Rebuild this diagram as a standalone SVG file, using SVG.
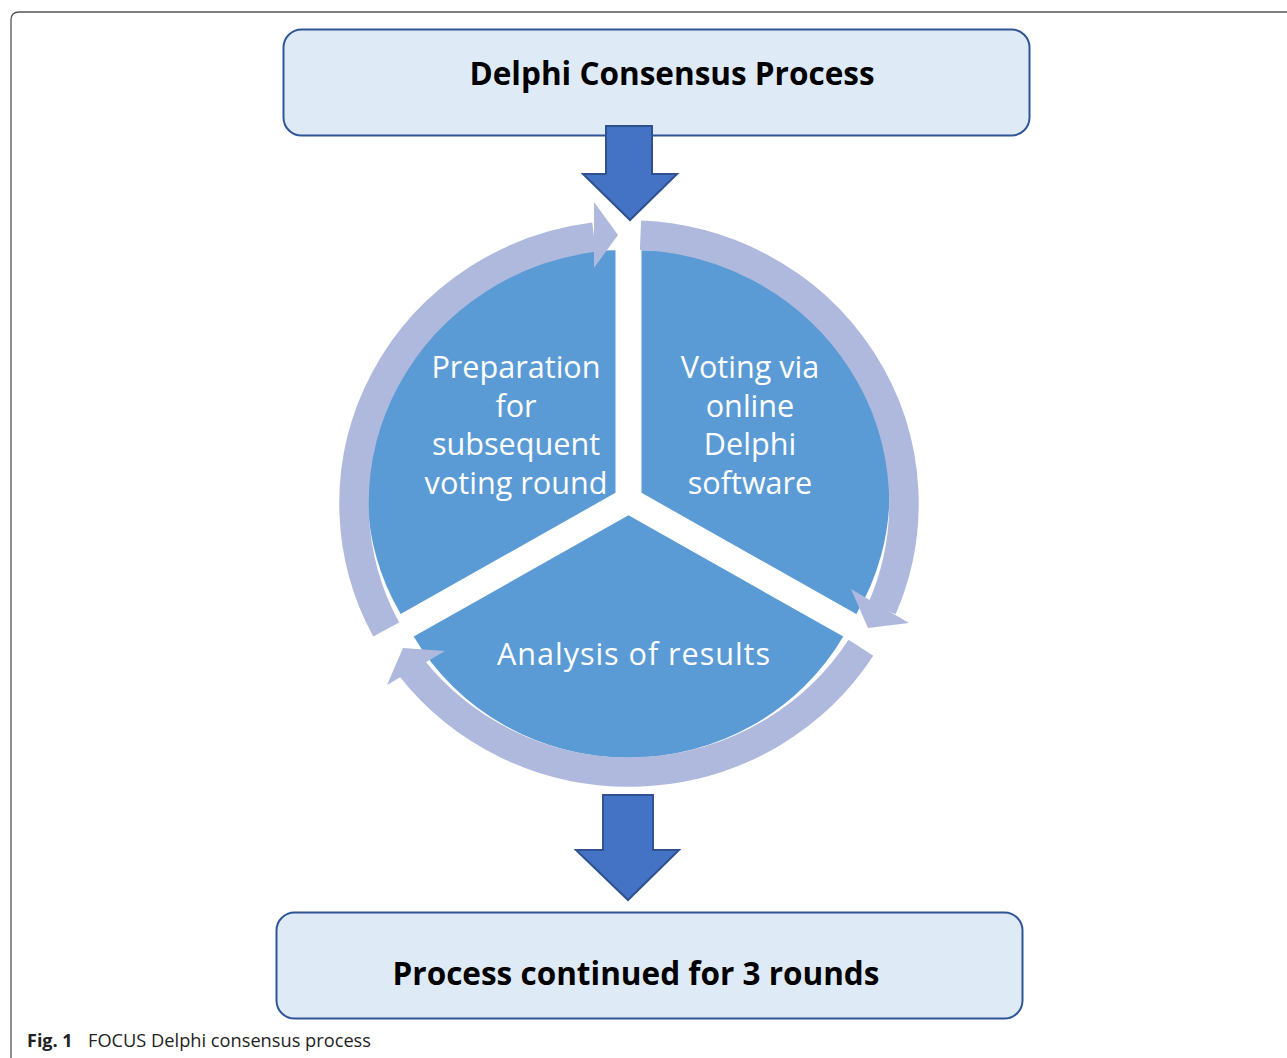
<svg xmlns="http://www.w3.org/2000/svg" width="1287" height="1058" viewBox="0 0 1287 1058">
<style>
.box{fill:#deeaf6;stroke:#2f5597;stroke-width:2}
.title{font-family:"Open Sans","DejaVu Sans",sans-serif;font-weight:bold;font-size:31.5px;fill:#000;text-anchor:middle}
.pie{fill:#5b9bd5}
.ptext{font-family:"Open Sans","DejaVu Sans",sans-serif;font-size:30.6px;fill:#fff;text-anchor:middle}
.ring{fill:none;stroke:#aeb9dd;stroke-width:29.5}
.head{fill:#aeb9dd}
.bigarrow{fill:#4472c4;stroke:#2f528f;stroke-width:2}
.cap{font-family:"Open Sans","DejaVu Sans",sans-serif;font-size:18px;fill:#222}
</style>
<rect width="1287" height="1058" fill="#fff"/>
<path d="M 11 1058 L 11 20 Q 11 12 19 12 L 1287 12" fill="none" stroke="#555" stroke-width="1.3"/>

<g id="pie">
  <g id="seg-prep">
    <path class="pie" d="M 615.5 492.8 L 615.5 250.3 A 248 242.5 0 0 0 400.7 614.05 Z"/>
    <text class="ptext"><tspan x="516" y="378">Preparation</tspan><tspan x="516" y="416.5">for</tspan><tspan x="516" y="455">subsequent</tspan><tspan x="516" y="493.5">voting round</tspan></text>
  </g>
  <g id="seg-voting">
    <path class="pie" d="M 641.5 492.8 L 641.5 250.3 A 248 242.5 0 0 1 856.3 614.05 Z"/>
    <text class="ptext"><tspan x="750" y="378">Voting via</tspan><tspan x="750" y="416.5">online</tspan><tspan x="750" y="455">Delphi</tspan><tspan x="750" y="493.5">software</tspan></text>
  </g>
  <g id="seg-analysis">
    <path class="pie" d="M 628.5 515.3 L 843.3 636.55 A 248 242.5 0 0 1 413.7 636.55 Z"/>
    <text class="ptext" x="633.5" y="665" font-size="32" textLength="273" lengthAdjust="spacing">Analysis of results</text>
  </g>
</g>

<g id="connectors">
  <path class="ring" d="M 386.2 629.55 A 275 268.5 0 0 1 594.06 237.18"/>
  <polygon class="head" points="594,202 618,235 594,268"/>
  <path class="ring" d="M 640.5 235.24 A 275 268.5 0 0 1 882.1 608.4"/>
  <polygon class="head" points="851,589 909,623 868,628"/>
  <path class="ring" d="M 860.9 647.8 A 275 268.5 0 0 1 410.8 666.95"/>
  <polygon class="head" points="445,651 387,685 403,648"/>
</g>

<g id="top-box">
  <rect class="box" x="283.5" y="29.5" width="746" height="106" rx="18"/>
  <text class="title" x="672" y="84.5">Delphi Consensus Process</text>
</g>
<g id="bottom-box">
  <rect class="box" x="276.5" y="912.5" width="746" height="106" rx="18"/>
  <text class="title" x="636" y="984.5" font-size="32.8">Process continued for 3 rounds</text>
</g>

<g id="arrows">
  <polygon class="bigarrow" points="606,126 652,126 652,174 677,174 630,220 583,174 606,174"/>
  <polygon class="bigarrow" points="603,795 653,795 653,850 679,850 628,900 576,850 603,850"/>
</g>

<g id="caption">
  <text class="cap" x="27" y="1047" font-weight="bold">Fig. 1</text>
  <text class="cap" x="88" y="1047" textLength="283" lengthAdjust="spacingAndGlyphs">FOCUS Delphi consensus process</text>
</g>
</svg>
